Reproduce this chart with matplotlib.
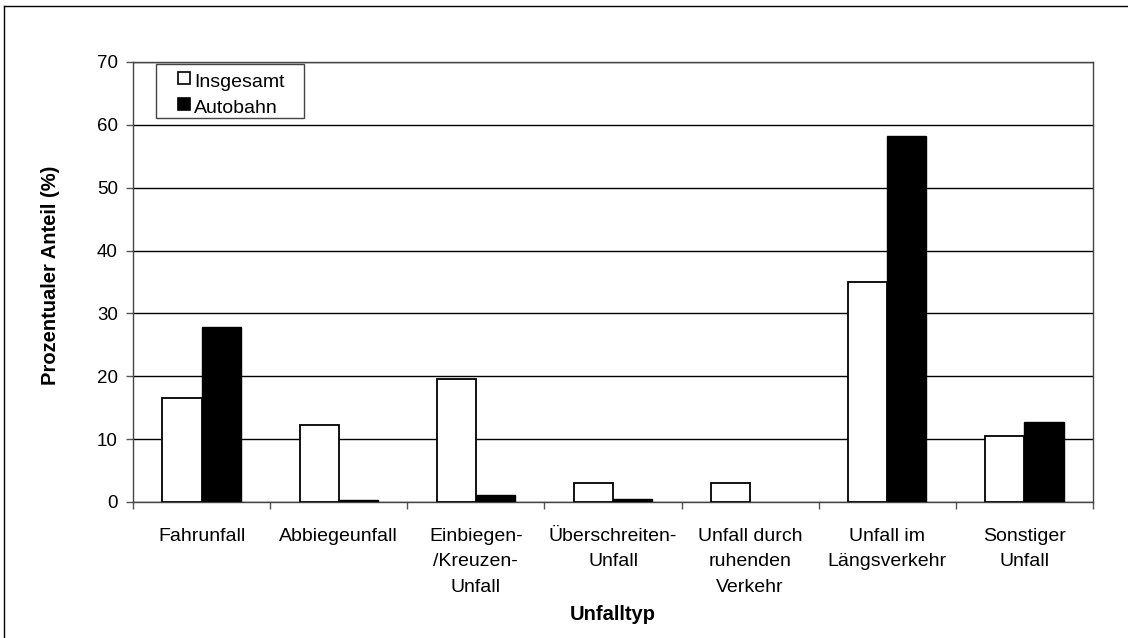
import numpy as np
import matplotlib
matplotlib.use("Agg")
import matplotlib.pyplot as plt
from matplotlib.lines import Line2D
from matplotlib.patches import Rectangle

plt.rcParams["font.family"] = ["Liberation Sans", "DejaVu Sans"]

categories = ["Fahrunfall", "Abbiegeunfall", "Einbiegen-\n/Kreuzen-\nUnfall",
              "Überschreiten-\nUnfall", "Unfall durch\nruhenden\nVerkehr",
              "Unfall im\nLängsverkehr", "Sonstiger\nUnfall"]
insgesamt = [16.6, 12.2, 19.6, 3.0, 3.0, 35.0, 10.5]
autobahn = [27.8, 0.3, 1.1, 0.4, 0.0, 58.2, 12.7]
yticks = [0, 10, 20, 30, 40, 50, 60, 70]
series_names = ["Insgesamt", "Autobahn"]

W, H = 1128, 638
fig = plt.figure(figsize=(W / 100, H / 100), dpi=100)
ax = fig.add_axes([133 / W, 1 - 502 / H, 960 / W, 440 / H])


def fx(px):
    return px / W


def fy(py):
    return 1 - py / H


x = np.arange(len(categories))
w = 0.285
ax.bar(x - w / 2, insgesamt, w, color="white", edgecolor="black", linewidth=1.3,
       zorder=3)
ax.bar(x + w / 2, [v if v > 0 else np.nan for v in autobahn], w, color="black",
       edgecolor="black", linewidth=1.0, zorder=3)

ax.set_xlim(-0.5, len(categories) - 0.5)
ax.set_ylim(0, 70)
ax.set_yticks(yticks)
ax.yaxis.grid(True, color="black", linewidth=1.0, zorder=0)
ax.set_axisbelow(True)

ax.set_xticks(x)
ax.set_xticklabels(categories, fontsize=14, linespacing=1.62)
ax.tick_params(axis="x", length=0, pad=19)
ax.set_xticks(np.arange(len(categories) + 1) - 0.5, minor=True)
ax.tick_params(axis="x", which="minor", length=5, width=1, color="#555555")
ax.tick_params(axis="y", length=5, width=1, labelsize=13.5, color="#555555", pad=6)

for s in ax.spines.values():
    s.set_color("#444444")
    s.set_linewidth(1.0)

fig.text(fx(51), fy(275), "Prozentualer Anteil (%)", rotation=90, fontsize=14.5,
         fontweight="bold", ha="center", va="center")
fig.text(fx(613), fy(614), "Unfalltyp", fontsize=14.5, fontweight="bold",
         ha="center", va="center")

# legend box
fig.add_artist(Rectangle((fx(156), fy(118)), (304 - 156) / W, 54 / H,
                         facecolor="white", edgecolor="#444444", linewidth=1.0,
                         transform=fig.transFigure, zorder=5))
for i, (name, fc) in enumerate(zip(series_names, ["white", "black"])):
    top = 72 + i * 26
    fig.add_artist(Rectangle((fx(178), fy(top + 12)), 12 / W, 12 / H,
                             facecolor=fc, edgecolor="black", linewidth=1.2,
                             transform=fig.transFigure, zorder=6))
    fig.text(fx(194), fy(87 + i * 26), name, fontsize=14, ha="left",
             va="baseline", zorder=6)

# outer frame (cut off on right and bottom)
fig.add_artist(Line2D([fx(4), fx(4)], [0, fy(6)], color="black", linewidth=1.0,
                      transform=fig.transFigure))
fig.add_artist(Line2D([fx(4), 1], [fy(6), fy(6)], color="black", linewidth=1.0,
                      transform=fig.transFigure))

fig.savefig("out.png", dpi=100)
